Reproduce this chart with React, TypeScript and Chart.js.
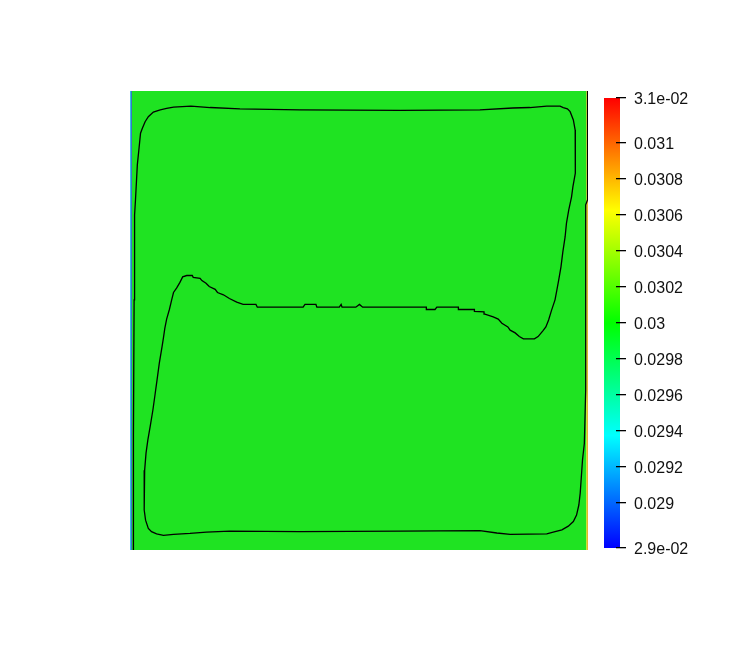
import React, { useEffect, useRef } from "react";
import { Chart, registerables } from "chart.js";

Chart.register(...registerables);

// Contour line (domain coordinates, 0..1 in both directions)
const contourX = [
  0.007, 0.007, 0.008, 0.009, 0.010, 0.012, 0.016, 0.020, 0.023, 0.027,
  0.033, 0.040, 0.051, 0.066, 0.080, 0.095, 0.133, 0.175, 0.240, 0.371,
  0.590, 0.764, 0.836, 0.873, 0.910, 0.939, 0.946, 0.955, 0.961, 0.968,
  0.972, 0.973, 0.972, 0.972, 0.967, 0.964, 0.958, 0.953, 0.950, 0.945,
  0.941, 0.936, 0.932, 0.928, 0.920, 0.914, 0.908, 0.901, 0.891, 0.883,
  0.859, 0.850, 0.841, 0.830, 0.825, 0.812, 0.804, 0.793, 0.775, 0.773,
  0.752, 0.752, 0.717, 0.717, 0.670, 0.666, 0.648, 0.647, 0.508, 0.501,
  0.493, 0.463, 0.461, 0.457, 0.408, 0.406, 0.382, 0.378, 0.278, 0.275,
  0.247, 0.233, 0.217, 0.204, 0.191, 0.186, 0.173, 0.166, 0.157, 0.153,
  0.138, 0.136, 0.124, 0.115, 0.109, 0.102, 0.095, 0.091, 0.086, 0.080,
  0.076, 0.073, 0.070, 0.064, 0.059, 0.055, 0.050, 0.044, 0.039, 0.035,
  0.032, 0.031, 0.034, 0.040, 0.047, 0.058, 0.073, 0.095, 0.131, 0.167,
  0.218, 0.371, 0.590, 0.764, 0.801, 0.830, 0.910, 0.924, 0.943, 0.957,
  0.968, 0.975, 0.980, 0.983, 0.985, 0.988, 0.992, 0.995, 0.995, 0.999,
  0.999,
];
const contourY = [
  0.000, 0.109, 0.251, 0.545, 0.730, 0.763, 0.839, 0.878, 0.908, 0.919,
  0.933, 0.944, 0.954, 0.959, 0.962, 0.965, 0.967, 0.964, 0.961, 0.959,
  0.958, 0.959, 0.963, 0.964, 0.967, 0.967, 0.964, 0.961, 0.955, 0.937,
  0.915, 0.878, 0.839, 0.821, 0.791, 0.769, 0.741, 0.712, 0.682, 0.649,
  0.617, 0.588, 0.566, 0.545, 0.521, 0.501, 0.486, 0.477, 0.465, 0.460,
  0.460, 0.465, 0.473, 0.479, 0.486, 0.494, 0.503, 0.508, 0.514, 0.519,
  0.520, 0.524, 0.524, 0.529, 0.529, 0.524, 0.524, 0.529, 0.529, 0.535,
  0.529, 0.529, 0.535, 0.529, 0.529, 0.535, 0.535, 0.529, 0.529, 0.535,
  0.535, 0.540, 0.548, 0.556, 0.561, 0.568, 0.574, 0.581, 0.587, 0.592,
  0.594, 0.598, 0.598, 0.595, 0.583, 0.571, 0.561, 0.545, 0.524, 0.503,
  0.483, 0.462, 0.443, 0.407, 0.370, 0.341, 0.305, 0.269, 0.240, 0.211,
  0.174, 0.087, 0.065, 0.047, 0.040, 0.035, 0.032, 0.034, 0.036, 0.039,
  0.041, 0.040, 0.041, 0.042, 0.037, 0.034, 0.035, 0.039, 0.044, 0.052,
  0.062, 0.076, 0.098, 0.124, 0.153, 0.196, 0.232, 0.349, 0.752, 0.763,
  1.000,
];

// Field: columns of the scalar field (column boundaries and values)
const fieldEdges = [0, 0.002, 0.004, 0.996, 0.998, 1];
const fieldValues = [0.0293, 0.02885, 0.02999, 0.0305, 0.0308];

// Colour bar
const colorbarMin = 0.02875;
const colorbarMax = 0.03125;
const colorbarTicks = [
  0.02875, 0.029, 0.0292, 0.0294, 0.0296, 0.0298, 0.03, 0.0302, 0.0304,
  0.0306, 0.0308, 0.031, 0.03125,
];
const colorbarLabels = [
  "2.9e-02", "0.029", "0.0292", "0.0294", "0.0296", "0.0298", "0.03",
  "0.0302", "0.0304", "0.0306", "0.0308", "0.031", "3.1e-02",
];

const jetStops: number[][] = [
  [0, 0, 255],
  [0, 255, 255],
  [0, 255, 0],
  [255, 255, 0],
  [255, 0, 0],
];

function jet(t: number): number[] {
  const tt = Math.max(0, Math.min(1, t)) * (jetStops.length - 1);
  const i = Math.min(jetStops.length - 2, Math.floor(tt));
  const f = tt - i;
  const a = jetStops[i];
  const b = jetStops[i + 1];
  return [0, 1, 2].map((k) => a[k] + (b[k] - a[k]) * f);
}

function shadedColor(v: number): string {
  const c = jet((v - colorbarMin) / (colorbarMax - colorbarMin));
  const s = c.map((x) => Math.round(31 + (x * 196) / 255));
  return `rgb(${s[0]},${s[1]},${s[2]})`;
}

const FONT = "'Liberation Sans', Arial, sans-serif";

export default function App() {
  const mainRef = useRef<HTMLCanvasElement>(null);
  const barRef = useRef<HTMLCanvasElement>(null);

  useEffect(() => {
    const fieldPlugin = {
      id: "field",
      beforeDatasetsDraw(chart: any) {
        const { ctx, chartArea, scales } = chart;
        const xs = scales.x;
        ctx.save();
        for (let i = 0; i < fieldValues.length; i++) {
          const x0 = xs.getPixelForValue(fieldEdges[i]);
          const x1 = xs.getPixelForValue(fieldEdges[i + 1]);
          ctx.fillStyle = shadedColor(fieldValues[i]);
          ctx.fillRect(x0, chartArea.top, x1 - x0, chartArea.bottom - chartArea.top);
        }
        ctx.restore();
      },
    };

    const main = new Chart(mainRef.current!, {
      type: "scatter",
      data: {
        datasets: [
          {
            data: contourX.map((x, i) => ({ x, y: contourY[i] })),
            showLine: true,
            borderColor: "#000",
            borderWidth: 1.3,
            pointRadius: 0,
            tension: 0,
            fill: false,
          },
        ],
      },
      options: {
        responsive: false,
        animation: false,
        events: [],
        layout: { padding: { left: 130, top: 91, right: 156, bottom: 100 } },
        plugins: { legend: { display: false }, tooltip: { enabled: false } },
        scales: {
          x: { type: "linear", min: 0, max: 1, display: false },
          y: { type: "linear", min: 0, max: 1, display: false },
        },
      },
      plugins: [fieldPlugin],
    });

    const barPlugin = {
      id: "colorbarFill",
      beforeDraw(chart: any) {
        const { ctx, chartArea } = chart;
        const g = ctx.createLinearGradient(0, chartArea.bottom, 0, chartArea.top);
        jetStops.forEach((c, i) => {
          g.addColorStop(i / (jetStops.length - 1), `rgb(${c[0]},${c[1]},${c[2]})`);
        });
        ctx.save();
        ctx.fillStyle = g;
        ctx.fillRect(chartArea.left, chartArea.top, chartArea.right - chartArea.left + 4, chartArea.bottom - chartArea.top);
        ctx.restore();
      },
    };

    const bar = new Chart(barRef.current!, {
      type: "scatter",
      data: { datasets: [] },
      options: {
        responsive: false,
        animation: false,
        events: [],
        layout: { padding: { left: 604, top: 98, right: 0, bottom: 102 } },
        plugins: { legend: { display: false }, tooltip: { enabled: false } },
        scales: {
          x: { type: "linear", min: 0, max: 1, display: false },
          y: {
            type: "linear",
            position: "right",
            min: colorbarMin,
            max: colorbarMax,
            afterFit: (scale: any) => {
              scale.width = 128;
            },
            afterBuildTicks: (scale: any) => {
              scale.ticks = colorbarTicks.map((v) => ({ value: v }));
            },
            border: { display: false },
            grid: {
              display: true,
              drawOnChartArea: false,
              drawTicks: true,
              tickLength: 10,
              color: "#000",
              lineWidth: 1.3,
            },
            ticks: {
              autoSkip: false,
              padding: 8,
              labelOffset: 1.5,
              color: "#111",
              font: { family: FONT, size: 16 },
              callback: (_v: any, i: number) => colorbarLabels[i],
            },
          },
        },
      },
      plugins: [barPlugin],
    });

    return () => {
      main.destroy();
      bar.destroy();
    };
  }, []);

  const cstyle: React.CSSProperties = {
    position: "absolute",
    left: 0,
    top: 0,
    width: 744,
    height: 650,
  };

  return (
    <div style={{ position: "fixed", left: 0, top: 0, width: 744, height: 650, background: "#fff" }}>
      <canvas ref={mainRef} width={744} height={650} style={cstyle} />
      <canvas ref={barRef} width={744} height={650} style={cstyle} />
    </div>
  );
}
